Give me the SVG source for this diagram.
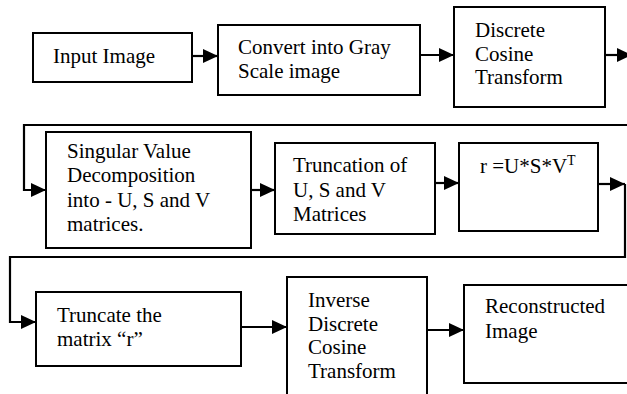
<svg xmlns="http://www.w3.org/2000/svg" width="627" height="394" viewBox="0 0 627 394">
<style>
.box{fill:#fff;stroke:#000;stroke-width:2}
.t{font-size:21px;fill:#000}
.c{fill:none;stroke:#000;stroke-width:2.2}
</style>
<defs>
<marker id="ah" markerUnits="userSpaceOnUse" markerWidth="15" markerHeight="14" refX="15" refY="7" orient="auto">
<path d="M0,0 L15,7 L0,14 z" fill="#000"/>
</marker>
</defs>
<rect width="627" height="394" fill="#fff"/>
<g id="connectors">
<path class="c" d="M192,56 H218" marker-end="url(#ah)"/>
<path class="c" d="M421,55 H454" marker-end="url(#ah)"/>
<path class="c" d="M605,55 H632" marker-end="url(#ah)"/>
<path class="c" d="M627,125 H24 V190 H46" marker-end="url(#ah)"/>
<path class="c" d="M251,190 H275" marker-end="url(#ah)"/>
<path class="c" d="M435,183 H459" marker-end="url(#ah)"/>
<path class="c" d="M598,184 H625" marker-end="url(#ah)"/>
<path class="c" d="M625,184 V257 H10 V322 H36" marker-end="url(#ah)"/>
<path class="c" d="M241,327 H287" marker-end="url(#ah)"/>
<path class="c" d="M427,330 H464" marker-end="url(#ah)"/>
</g>
<g font-family="Liberation Serif, Times New Roman, serif">
<g id="input">
<rect class="box" x="33" y="33" width="159" height="49"/>
<text class="t" x="53" y="63">Input Image</text>
</g>
<g id="gray">
<rect class="box" x="218" y="25" width="202" height="70"/>
<text class="t" x="238" y="54">Convert into Gray</text>
<text class="t" x="238" y="78">Scale image</text>
</g>
<g id="dct">
<rect class="box" x="454" y="7" width="151" height="100"/>
<text class="t" x="475" y="37">Discrete</text>
<text class="t" x="475" y="61">Cosine</text>
<text class="t" x="475" y="84">Transform</text>
</g>
<g id="svd">
<rect class="box" x="46" y="132" width="205" height="116"/>
<text class="t" x="67" y="158">Singular Value</text>
<text class="t" x="67" y="182">Decomposition</text>
<text class="t" x="67" y="207">into - U, S and V</text>
<text class="t" x="67" y="231">matrices.</text>
</g>
<g id="truncusv">
<rect class="box" x="275" y="143" width="160" height="91"/>
<text class="t" x="293" y="172">Truncation of</text>
<text class="t" x="293" y="197">U, S and V</text>
<text class="t" x="293" y="221">Matrices</text>
</g>
<g id="r">
<rect class="box" x="459" y="143" width="139" height="88"/>
<text class="t" x="480" y="173">r =U*S*V<tspan font-size="14" dy="-8">T</tspan></text>
</g>
<g id="truncr">
<rect class="box" x="36" y="292" width="205" height="74"/>
<text class="t" x="57" y="322">Truncate the</text>
<text class="t" x="57" y="346">matrix “r”</text>
</g>
<g id="idct">
<rect class="box" x="287" y="277" width="140" height="130"/>
<text class="t" x="308" y="307">Inverse</text>
<text class="t" x="308" y="331">Discrete</text>
<text class="t" x="308" y="354">Cosine</text>
<text class="t" x="308" y="378">Transform</text>
</g>
<g id="recon">
<rect class="box" x="464" y="285" width="170" height="98"/>
<text class="t" x="485" y="313">Reconstructed</text>
<text class="t" x="485" y="338">Image</text>
</g>
</g>
</svg>
